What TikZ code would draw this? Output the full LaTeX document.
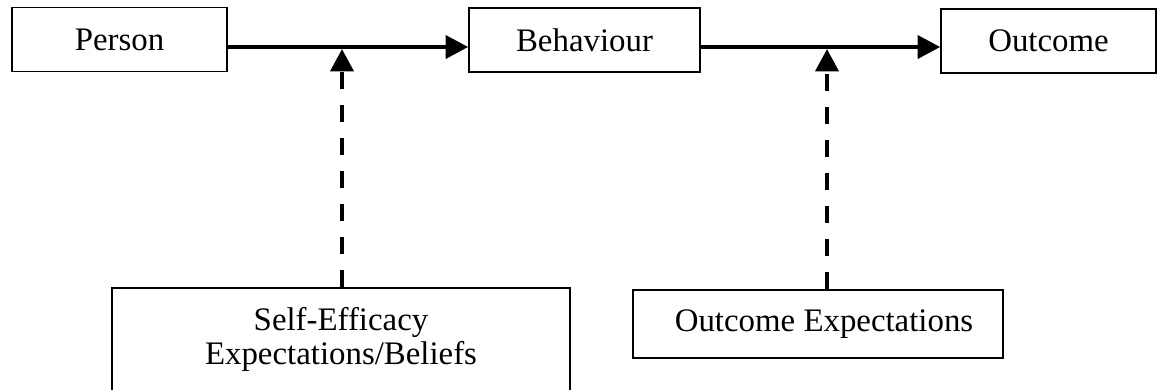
\documentclass[tikz,border=0pt]{standalone}
\usepackage{fontspec}
\setmainfont{Liberation Serif}
\usepackage{tikz}
\usetikzlibrary{positioning,arrows.meta}
\tikzset{
  flowarrow/.style={-{Triangle[length=0.45cm, width=0.46cm]}, line width=0.075cm},
  dasharrow/.style={-{Triangle[length=0.45cm, width=0.46cm]}, line width=0.085cm, dash pattern=on 0.34cm off 0.32cm},
  conceptbox/.style={draw, line width=0.035cm, fill=white, inner sep=0pt, align=center},
  boxfont/.style={font=\fontsize{18.7}{19.5}\selectfont}
}

\begin{document}
\begin{tikzpicture}[x=0.02cm, y=-0.02cm, every node/.style={boxfont}]
  \useasboundingbox (0,0) rectangle (1158,389);
  % top row
  \node[conceptbox, minimum width=4.3cm, minimum height=1.28cm] (person) at (119.5,39.5) {Person};
  \node[conceptbox, minimum width=4.62cm, minimum height=1.28cm] (behav) at (584.5,40) {Behaviour};
  \node[conceptbox, minimum width=4.3cm, minimum height=1.28cm] (outcome) at (1048.5,41) {Outcome};
  % expectation boxes
  \node[conceptbox, minimum width=9.16cm, minimum height=2.06cm] (selfeff) at (341,339.5) {Self-Efficacy\\Expectations/Beliefs};
  \node[conceptbox, minimum width=7.4cm, minimum height=1.36cm] (outexp) at (818,324) {\hspace*{0.24cm}Outcome Expectations};
  \coordinate (j1) at (342,49);
  \coordinate (j2) at (827,49);
  \draw[flowarrow] ([yshift=-0.15cm]person.east) -- ([yshift=-0.14cm]behav.west);
  \draw[flowarrow] ([yshift=-0.14cm]behav.east) -- ([yshift=-0.12cm]outcome.west);
  \draw[dasharrow] (selfeff.north -| j1) -- (j1);
  \draw[dasharrow] (outexp.north -| j2) -- (j2);
\end{tikzpicture}
\end{document}
